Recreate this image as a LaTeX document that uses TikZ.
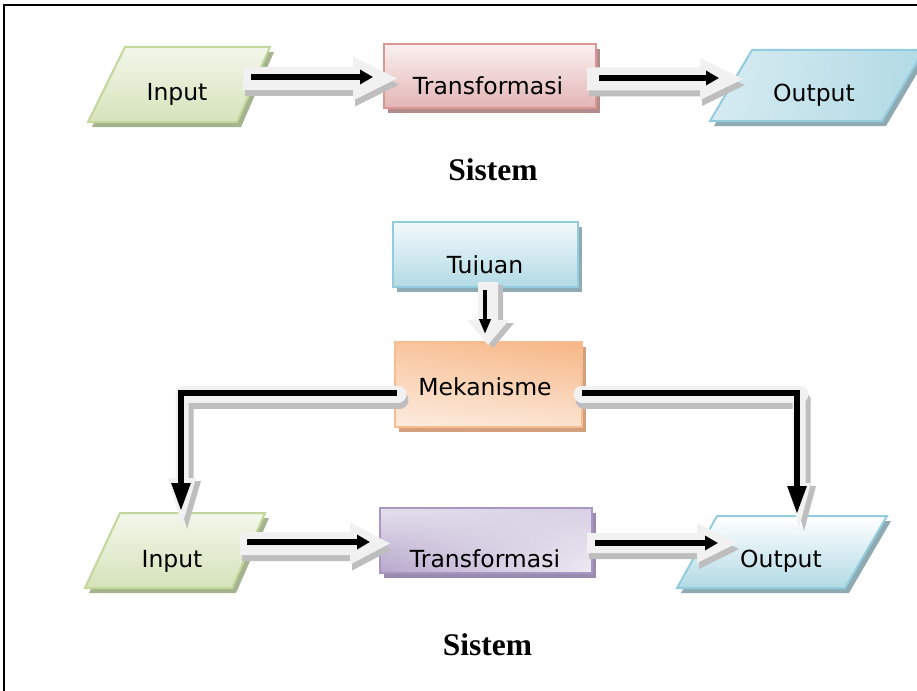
\documentclass[tikz,border=0pt]{standalone}
\usepackage{fontspec}
\setmainfont{Liberation Serif}
\newfontfamily\boxfont{DejaVu Sans}
\usetikzlibrary{calc,arrows.meta,shadings}

% palette
\definecolor{grnB}{HTML}{C3D69B}\definecolor{grnF}{HTML}{D5E3BA}\definecolor{grnS}{HTML}{A6B38F}
\definecolor{pnkB}{HTML}{D99694}\definecolor{pnkF}{HTML}{E4B5B5}\definecolor{pnkS}{HTML}{B38B8C}
\definecolor{bluB}{HTML}{93CDDD}\definecolor{bluF}{HTML}{B2DAE5}\definecolor{bluS}{HTML}{8FAAB2}
\definecolor{orgB}{HTML}{F6B27E}\definecolor{orgS}{HTML}{D2A07D}
\definecolor{purB}{HTML}{A897C2}\definecolor{purS}{HTML}{9A8BAE}
\definecolor{arrL}{HTML}{F1F1F1}\definecolor{arrS}{HTML}{BEBEBE}

\tikzset{
  lbl/.style={font=\boxfont\fontsize{23.5}{28}\selectfont, inner sep=0pt, anchor=base},
  title/.style={font=\bfseries\fontsize{31.5}{36}\selectfont, inner sep=0pt, anchor=base},
  edge/.style={line width=2pt, line join=miter},
  blackarrow/.style={line width=5.5pt, -{Triangle[length=13pt,width=14pt]}},
  elbowarrow/.style={line width=5.5pt, line join=miter, -{Triangle[length=28pt,width=18pt]}},
  downarrow/.style={line width=4pt, -{Triangle[length=15pt,width=11pt]}},
  dropH/.style={transform canvas={shift={(2pt,-6pt)}}},
  dropV/.style={transform canvas={shift={(5pt,-3pt)}}},
}

% block arrow outlines: #1 start, #2 tip, #3 shaft half width, #4 head half width, #5 head length
\newcommand\harrpath[5]{($(#1)+(0,-#3)$) -- ($(#2)+(-#5,-#3)$) -- ($(#2)+(-#5,-#4)$) -- (#2)
  -- ($(#2)+(-#5,#4)$) -- ($(#2)+(-#5,#3)$) -- ($(#1)+(0,#3)$) -- cycle}
\newcommand\varrpath[5]{($(#1)+(-#3,0)$) -- ($(#2)+(-#3,-#5)$) -- ($(#2)+(-#4,-#5)$) -- (#2)
  -- ($(#2)+(#4,-#5)$) -- ($(#2)+(#3,-#5)$) -- ($(#1)+(#3,0)$) -- cycle}
\newcommand\blockH[5]{%
  \fill[arrS,dropH] \harrpath{#1}{#2}{#3}{#4}{#5};
  \fill[arrL] \harrpath{#1}{#2}{#3}{#4}{#5};}
\newcommand\blockV[5]{%
  \fill[arrS,dropV] \varrpath{#1}{#2}{#3}{#4}{#5};
  \fill[arrL] \varrpath{#1}{#2}{#3}{#4}{#5};}

\begin{document}
\begin{tikzpicture}[x=1pt,y=-1pt]
\useasboundingbox (0,0) rectangle (917,690);
\clip (0,0) rectangle (917,690);
\fill[white] (0,0) rectangle (917,690);

% frame
\draw[line width=2pt] (4,692) -- (4,5) -- (920,5);

% ---------- upper system ----------
% Input
\fill[grnS] (129,52) -- (274,52) -- (241,127) -- (92,127) -- cycle;
\shade[top color=white!70!grnF, bottom color=grnF] (125,47) -- (270,47) -- (237,122) -- (88,122) -- cycle;
\draw[edge, grnB] (125,47) -- (270,47) -- (237,122) -- (88,122) -- cycle;
\node[lbl] (in1) at (177,100) {Input};

% Transformasi
\fill[pnkS] (388,49) rectangle (600,113);
\shade[top color=white!80!pnkF, bottom color=pnkF] (384,44) rectangle (596,108);
\draw[edge, pnkB] (384,44) rectangle (596,108);
\node[lbl] (tr1) at (488,95) {Transformasi};

% Output
\fill[bluS] (756,55) -- (928,55) -- (886,126) -- (714,126) -- cycle;
\shade[upper left=white!50!bluF, upper right=bluF, lower left=white!45!bluF, lower right=bluF]
  (752,50) -- (924,50) -- (882,121) -- (710,121) -- cycle;
\draw[edge, bluB] (752,50) -- (924,50) -- (882,121) -- (710,121) -- cycle;
\node[lbl] (out1) at (814,102) {Output};

% connectors
\coordinate (a1s) at (243,78.5); \coordinate (a1t) at (397,78.5);
\coordinate (a2s) at (587,79);   \coordinate (a2t) at (743,79);
\blockH{a1s}{a1t}{11.5}{22}{44}
\blockH{a2s}{a2t}{11.5}{21}{43}
\coordinate (k1s) at (251,77); \coordinate (k1t) at (373,77);
\coordinate (k2s) at (599,78); \coordinate (k2t) at (719,78);
\draw[blackarrow] (k1s) -- (k1t);
\draw[blackarrow] (k2s) -- (k2t);

\node[title] (sys1) at (493,180) {Sistem};

% ---------- lower system ----------
% Tujuan
\fill[bluS] (397,227) rectangle (582,292);
\shade[top color=white!85!bluF, bottom color=bluF] (393,222) rectangle (578,287);
\draw[edge, bluB] (393,222) rectangle (578,287);
\begin{scope}
  \clip (393,222) rectangle (578,274.5);
  \node[lbl] (goal) at (485,273) {Tujuan};
\end{scope}

% Mekanisme
\fill[orgS] (399,347) rectangle (586,432);
\shade[upper left=orgB!75!white, upper right=orgB!95!white, lower left=orgB!25!white, lower right=orgB!35!white]
  (395,342) rectangle (582,427);
\draw[edge, orgB!85!white] (395,342) rectangle (582,427);
\begin{scope}
  \clip (395,342) rectangle (582,414);
  \node[lbl] (mek) at (485,395) {Mekanisme};
  \node[lbl] (mek2) at (485,433) {Pengendali};
\end{scope}

% Input
\fill[grnS] (124,518) -- (269,518) -- (236,593) -- (89,593) -- cycle;
\shade[top color=white!70!grnF, bottom color=grnF] (120,513) -- (265,513) -- (232,588) -- (85,588) -- cycle;
\draw[edge, grnB] (120,513) -- (265,513) -- (232,588) -- (85,588) -- cycle;
\node[lbl] (in2) at (172,567) {Input};

% Transformasi
\fill[purS] (384,513) rectangle (596,578);
\shade[upper left=purB!30!white, upper right=purB!45!white, lower left=purB!85!white, lower right=purB!20!white]
  (380,508) rectangle (592,573);
\draw[edge, purB] (380,508) rectangle (592,573);
\node[lbl] (tr2) at (485,567) {Transformasi};

% Output
\fill[bluS] (721,521) -- (891,521) -- (849,593) -- (681,593) -- cycle;
\shade[top color=white, bottom color=bluF] (717,516) -- (887,516) -- (845,588) -- (677,588) -- cycle;
\draw[edge, bluB] (717,516) -- (887,516) -- (845,588) -- (677,588) -- cycle;
\node[lbl] (out2) at (781,567) {Output};

% goal -> mechanism
\coordinate (vs) at (488,282); \coordinate (vt) at (488,345);
\blockV{vs}{vt}{10}{21}{25}
\coordinate (gs) at (485,290); \coordinate (gt) at (485,334);
\draw[downarrow] (gs) -- (gt);

% mechanism -> input (elbow)
\coordinate (lb) at (398,394); \coordinate (lc) at (184,394);
\coordinate (lv) at (182,394); \coordinate (lh) at (182,526);
\draw[arrS, line width=17pt, line cap=round, dropH] (lb) -- (lc);
\blockV{lv}{lh}{6.5}{14}{48}
\draw[arrL, line width=17pt, line cap=round] (lb) -- (lc);
\coordinate (mekL) at (397,393); \coordinate (inTop) at (181,511);
\draw[elbowarrow] (mekL) -| (inTop);

% mechanism -> output (elbow)
\coordinate (rb) at (582,394); \coordinate (rc) at (800,394);
\coordinate (rv) at (799,394); \coordinate (rh) at (799,528);
\draw[arrS, line width=17pt, line cap=round, dropH] (rb) -- (rc);
\blockV{rv}{rh}{6.5}{12}{45}
\draw[arrL, line width=17pt, line cap=round] (rb) -- (rc);
\coordinate (mekR) at (582,393); \coordinate (outTop) at (797,514);
\draw[elbowarrow] (mekR) -| (outTop);

% input -> transformasi -> output
\coordinate (a3s) at (240,543.5); \coordinate (a3t) at (390,543.5);
\coordinate (a4s) at (587,543);   \coordinate (a4t) at (737,543);
\blockH{a3s}{a3t}{11.5}{21}{40}
\blockH{a4s}{a4t}{10}{20}{40}
\coordinate (k3s) at (247,542); \coordinate (k3t) at (370,542);
\coordinate (k4s) at (595,543); \coordinate (k4t) at (718,543);
\draw[blackarrow] (k3s) -- (k3t);
\draw[blackarrow] (k4s) -- (k4t);

\node[title] (sys2) at (487.5,655) {Sistem};
\end{tikzpicture}
\end{document}
